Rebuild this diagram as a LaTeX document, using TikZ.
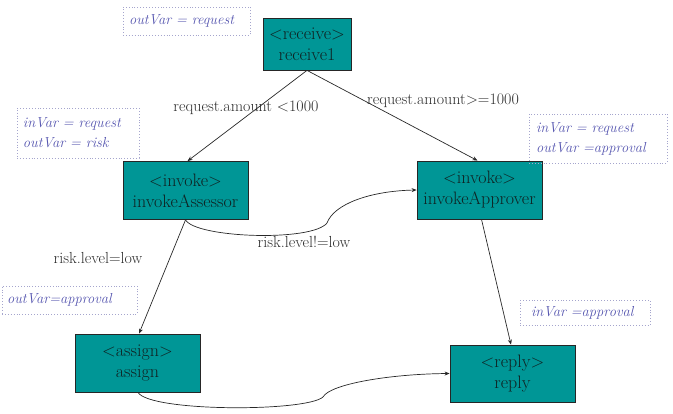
\documentclass[tikz,border=0pt]{standalone}
\usepackage{fontspec}
\usetikzlibrary{arrows.meta}
\definecolor{tealbox}{RGB}{0,150,150}
\definecolor{boxtext}{RGB}{15,35,35}
\definecolor{annotext}{RGB}{85,85,175}
\definecolor{annoline}{RGB}{165,165,205}
\definecolor{edgecol}{RGB}{40,40,40}
\definecolor{labcol}{RGB}{45,45,45}
\tikzset{
  actbox/.style={draw=black!85, line width=0.8pt, fill=tealbox, text=boxtext,
    align=center, inner sep=0pt, font=\rmfamily\fontsize{18}{21}\selectfont},
  annot/.style={draw=annoline, dotted, line width=0.9pt, text=annotext,
    font=\rmfamily\fontsize{14.5}{20}\selectfont\itshape, inner sep=0pt, align=left},
  edgelab/.style={text=labcol, font=\rmfamily\fontsize{16}{19}\selectfont, inner sep=0pt},
  conn/.style={draw=edgecol, line width=0.7pt, -{Stealth[length=5pt,width=4pt]}}
}
\begin{document}
\begin{tikzpicture}[x=1pt,y=-1pt]
\useasboundingbox (0,0) rectangle (673,414);
% activity boxes
\node[actbox, minimum width=88pt, minimum height=52pt] (rcv) at (307,44) {<receive>\\receive1};
\node[actbox, minimum width=125pt, minimum height=58pt] (ass) at (185.5,190.5) {<invoke>\\invokeAssessor};
\node[actbox, minimum width=125pt, minimum height=58pt] (app) at (479.5,190) {<invoke>\\invokeApprover};
\node[actbox, minimum width=125pt, minimum height=58pt] (asg) at (137.5,363) {<assign>\\assign};
\node[actbox, minimum width=125pt, minimum height=57pt] (rep) at (512.5,373.5) {<reply>\\reply};
% annotations
\node[annot, minimum width=127pt, minimum height=28pt, text width=115pt] (a1) at (186.5,21) {outVar = request};
\node[annot, minimum width=122pt, minimum height=50pt, text width=110pt] (a2) at (78,133) {inVar = request\\outVar = risk};
\node[annot, minimum width=138pt, minimum height=49pt, text width=124pt] (a3) at (598,138.5) {inVar = request\\outVar =approval};
\node[annot, minimum width=135pt, minimum height=28pt, text width=125pt] (a4) at (69.5,300) {outVar=approval};
\node[annot, minimum width=130pt, minimum height=25pt, text width=108pt] (a5) at (585,313) {inVar =approval};
% edge labels
\node[edgelab] (l1) at (246,108) {request.amount <1000};
\node[edgelab] (l2) at (443,101) {request.amount>=1000};
\node[edgelab] (l3) at (304,242) {risk.level!=low};
\node[edgelab] (l4) at (98,258) {risk.level=low};
% connectors
\draw[conn] (rcv.south) -- ([xshift=2pt]ass.north);
\draw[conn] (rcv.south) -- ([xshift=-2pt]app.north);
\draw[conn] (ass.south) -- ([xshift=1.5pt]asg.north);
\draw[conn] ([xshift=2pt]app.south) -- ([xshift=-1.5pt]rep.north);
\draw[conn] (ass.south) .. controls (196,238) and (312,242) .. (327,223)
  .. controls (334,204) and (370,191) .. (app.west);
\draw[conn] ([xshift=0.5pt]asg.south) .. controls (150,412) and (306,412) .. (323,397)
  .. controls (330,384) and (390,374) .. (rep.west);
\end{tikzpicture}
\end{document}
